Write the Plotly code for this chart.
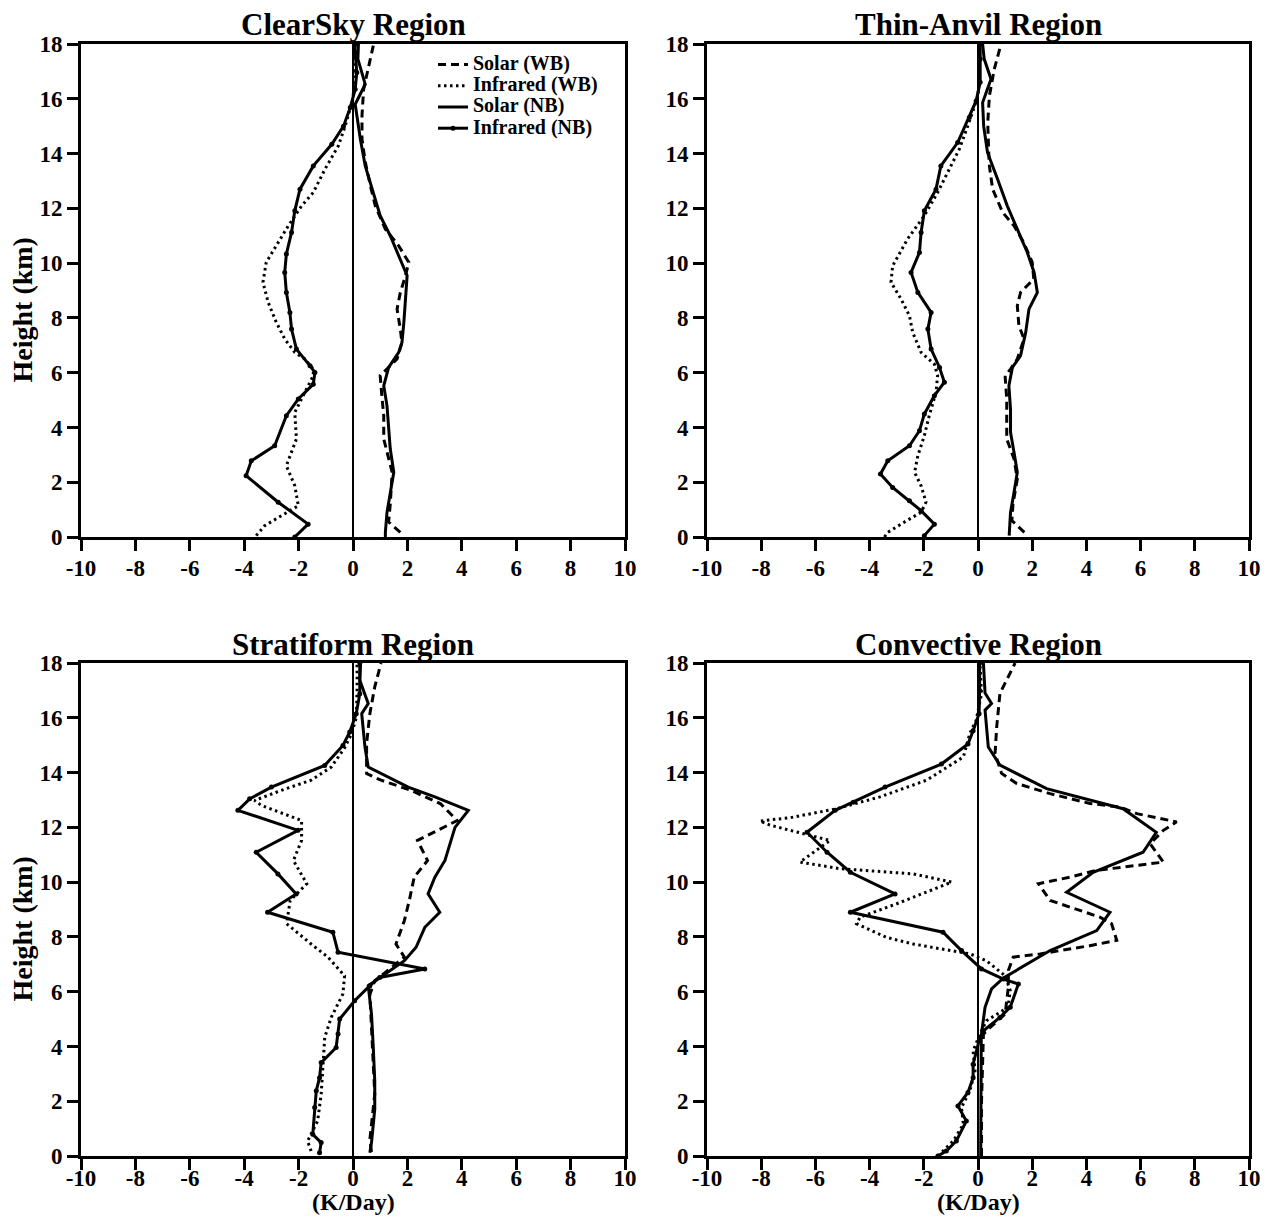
import plotly.graph_objects as go

# ---------------- DATA ----------------
x_tickvals = [-10, -8, -6, -4, -2, 0, 2, 4, 6, 8, 10]
x_ticktext = ["-10", "-8", "-6", "-4", "-2", "0", "2", "4", "6", "8", "10"]
y_tickvals = [0, 2, 4, 6, 8, 10, 12, 14, 16, 18]
y_ticktext = ["0", "2", "4", "6", "8", "10", "12", "14", "16", "18"]
panel_titles = ["ClearSky Region", "Thin-Anvil Region", "Stratiform Region", "Convective Region"]
series_names = ["Solar (WB)", "Infrared (WB)", "Solar (NB)", "Infrared (NB)"]

# ClearSky
clear_solar_wb_x = [1.74, 1.31, 1.37, 1.44, 1.13, 1.13, 1.06, 1.0, 1.62, 1.80, 1.74, 1.62, 1.74, 1.93, 2.05, 1.68, 1.19, 0.82, 0.64, 0.45, 0.33, 0.33, 0.39, 0.57, 0.76]
clear_solar_wb_y = [0.17, 0.55, 1.2, 2.36, 3.58, 4.43, 5.16, 5.89, 6.5, 7.1, 7.59, 8.32, 8.93, 9.54, 10.03, 10.63, 11.24, 12.09, 12.82, 13.7, 14.53, 15.38, 16.35, 17.2, 18.0]
clear_ir_wb_x = [-3.56, -3.25, -2.63, -2.01, -2.14, -2.45, -2.08, -2.14, -1.46, -1.46, -1.77, -2.14, -2.51, -2.82, -3.12, -3.31, -3.19, -2.75, -2.38, -1.89, -1.46, -1.03, -0.54, -0.29, 0.0, 0.06, 0.05]
clear_ir_wb_y = [0.05, 0.41, 0.78, 1.14, 1.87, 2.6, 3.58, 4.55, 5.89, 6.13, 6.5, 6.74, 7.23, 7.84, 8.57, 9.3, 10.03, 10.75, 11.36, 12.09, 12.58, 13.43, 14.28, 15.0, 16.0, 17.0, 18.0]
clear_solar_nb_x = [1.19, 1.19, 1.25, 1.37, 1.50, 1.37, 1.31, 1.25, 1.13, 1.31, 1.68, 1.80, 1.87, 1.93, 1.99, 1.68, 1.37, 1.0, 0.70, 0.45, 0.27, 0.18, 0.08, 0.45, 0.18, 0.20]
clear_solar_nb_y = [0.0, 0.17, 0.90, 1.63, 2.36, 3.21, 4.06, 4.79, 5.52, 6.19, 6.74, 7.1, 7.84, 8.69, 9.54, 10.27, 11.0, 11.73, 12.7, 13.55, 14.53, 15.13, 15.8, 16.53, 17.45, 18.0]
clear_ir_nb_x = [-2.14, -1.65, -2.75, -3.93, -3.74, -2.88, -2.45, -2.01, -1.46, -1.40, -1.58, -2.08, -2.26, -2.32, -2.45, -2.51, -2.45, -2.26, -2.14, -1.95, -1.46, -0.78, -0.35, -0.10, 0.08, 0.14, 0.08, 0.08]
clear_ir_nb_y = [0.0, 0.47, 1.27, 2.24, 2.78, 3.33, 4.43, 5.04, 5.58, 6.01, 6.25, 6.86, 7.59, 8.2, 8.93, 9.66, 10.33, 11.12, 11.91, 12.7, 13.55, 14.34, 15.0, 15.68, 16.35, 16.96, 17.69, 18.0]

# Thin-Anvil
anvil_solar_wb_x = [1.71, 1.25, 1.29, 1.45, 1.33, 1.06, 1.06, 1.06, 1.0, 1.20, 1.45, 1.70, 1.51, 1.45, 1.57, 2.06, 2.0, 1.69, 1.33, 0.91, 0.54, 0.42, 0.39, 0.36, 0.42, 0.60, 0.85]
anvil_solar_wb_y = [0.17, 0.6, 1.2, 2.12, 2.85, 3.58, 4.19, 5.04, 5.89, 6.13, 6.5, 7.23, 7.71, 8.44, 8.93, 9.42, 10.03, 10.75, 11.36, 11.85, 12.7, 13.55, 14.16, 15.13, 16.1, 17.08, 18.0]
anvil_ir_wb_x = [-3.45, -3.33, -2.71, -2.10, -1.92, -2.10, -2.34, -2.22, -1.98, -1.80, -1.55, -1.49, -1.61, -2.10, -2.41, -2.53, -2.84, -3.21, -3.15, -2.60, -1.98, -1.49, -1.12, -0.69, -0.38, 0.0, 0.05, 0.05]
anvil_ir_wb_y = [0.0, 0.17, 0.55, 0.9, 1.27, 1.87, 2.36, 2.97, 3.70, 4.43, 5.28, 5.89, 6.31, 6.74, 7.47, 8.08, 8.69, 9.3, 9.9, 10.88, 11.73, 12.58, 13.31, 14.16, 15.0, 16.1, 17.0, 18.0]
anvil_solar_nb_x = [1.15, 1.20, 1.33, 1.45, 1.33, 1.20, 1.20, 1.14, 1.27, 1.57, 1.76, 1.88, 2.19, 2.07, 1.82, 1.51, 1.08, 0.72, 0.35, 0.21, 0.17, 0.48, 0.23, 0.17]
anvil_solar_nb_y = [0.05, 0.9, 1.63, 2.36, 3.09, 3.82, 4.67, 5.52, 6.19, 6.62, 7.47, 8.32, 8.93, 9.66, 10.39, 11.12, 12.09, 13.07, 14.04, 15.0, 15.86, 16.72, 17.45, 18.0]
anvil_ir_nb_x = [-1.98, -1.61, -2.10, -2.53, -3.15, -3.60, -3.33, -2.53, -2.16, -1.98, -1.61, -1.24, -1.42, -1.73, -1.85, -1.73, -2.22, -2.47, -2.16, -2.10, -1.98, -1.55, -1.37, -0.75, -0.32, -0.07, 0.08, 0.08, 0.08]
anvil_ir_nb_y = [0.05, 0.47, 0.96, 1.32, 1.81, 2.30, 2.78, 3.33, 3.88, 4.49, 5.16, 5.65, 6.19, 6.86, 7.59, 8.2, 8.93, 9.66, 10.39, 11.12, 11.91, 12.7, 13.55, 14.4, 15.32, 15.92, 16.6, 17.45, 18.0]

# Stratiform
strat_solar_wb_x = [0.68, 0.62, 0.80, 0.68, 0.62, 0.80, 1.28, 1.89, 1.58, 1.89, 2.07, 2.25, 2.74, 2.37, 3.83, 3.22, 2.13, 1.03, 0.50, 0.50, 0.62, 0.80, 1.03]
strat_solar_wb_y = [0.15, 0.6, 2.26, 4.7, 5.9, 6.40, 6.77, 7.26, 7.74, 8.6, 9.33, 10.18, 10.79, 11.52, 12.25, 12.86, 13.35, 13.72, 13.96, 15.06, 16.15, 17.13, 18.0]
strat_ir_wb_x = [-1.54, -1.67, -1.30, -1.17, -1.10, -1.04, -0.80, -0.37, -0.31, -0.92, -1.54, -2.44, -2.31, -1.70, -2.19, -1.89, -1.89, -3.37, -3.62, -2.64, -1.54, -0.80, -0.31, -0.06, 0.12, 0.15, 0.15]
strat_ir_wb_y = [0.18, 0.55, 1.28, 2.26, 3.35, 4.33, 5.06, 5.92, 6.58, 7.26, 7.74, 8.48, 9.33, 9.94, 10.79, 11.52, 12.25, 12.8, 12.98, 13.35, 13.72, 14.2, 14.9, 15.4, 16.0, 17.0, 18.0]
strat_solar_nb_x = [0.62, 0.68, 0.80, 0.80, 0.74, 0.68, 0.56, 1.89, 2.32, 2.64, 3.19, 2.76, 3.01, 3.38, 3.75, 4.24, 3.01, 2.03, 0.56, 0.44, 0.32, 0.56, 0.25, 0.28]
strat_solar_nb_y = [0.12, 0.49, 1.71, 2.74, 4.08, 5.18, 6.22, 7.13, 7.62, 8.35, 8.90, 9.57, 10.18, 10.79, 12.0, 12.62, 13.11, 13.47, 14.2, 14.93, 16.15, 16.52, 17.37, 18.0]
strat_ir_nb_x = [-1.23, -1.17, -1.48, -1.41, -1.35, -1.23, -1.17, -0.62, -0.55, -0.49, 0.06, 0.62, 0.98, 2.64, -0.55, -0.74, -3.14, -2.09, -2.76, -3.56, -2.02, -4.23, -3.80, -3.0, -1.04, -0.37, -0.12, 0.12, 0.25, 0.25]
strat_ir_nb_y = [0.12, 0.49, 0.79, 1.77, 2.38, 2.86, 3.41, 3.96, 4.45, 5.0, 5.67, 6.22, 6.52, 6.83, 7.44, 8.17, 8.90, 9.57, 10.30, 11.09, 11.89, 12.62, 13.04, 13.47, 14.26, 14.99, 15.48, 16.15, 16.88, 18.0]

# Convective
conv_solar_wb_x = [0.13, 0.13, 0.20, 0.44, 1.0, 1.12, 1.12, 1.30, 2.29, 4.13, 5.12, 4.93, 4.50, 2.66, 2.23, 3.39, 4.38, 6.84, 6.35, 6.84, 7.33, 5.86, 5.24, 4.13, 2.66, 1.43, 0.87, 0.63, 0.69, 0.81, 1.37]
conv_solar_wb_y = [0.0, 2.0, 4.45, 4.69, 5.18, 6.16, 6.77, 7.26, 7.38, 7.68, 7.87, 8.48, 8.72, 9.33, 9.94, 10.18, 10.43, 10.73, 11.4, 11.89, 12.2, 12.5, 12.74, 12.87, 13.23, 13.6, 13.97, 14.7, 15.67, 16.89, 18.0]
conv_ir_wb_x = [-1.48, -0.91, -0.54, -0.61, -0.30, -0.11, -0.18, 0.07, 0.31, 1.11, 1.19, 1.0, 0.31, -0.30, -2.39, -3.37, -4.48, -4.35, -3.0, -0.97, -2.39, -5.09, -6.57, -5.46, -7.68, -8.05, -6.94, -5.22, -3.62, -1.90, -0.54, -0.30, -0.07, 0.13, 0.07]
conv_ir_wb_y = [0.0, 0.55, 1.16, 1.77, 2.38, 3.11, 3.84, 4.45, 4.94, 5.43, 6.04, 6.58, 7.13, 7.38, 7.74, 7.98, 8.48, 8.72, 9.21, 10.0, 10.3, 10.49, 10.73, 11.52, 12.08, 12.23, 12.35, 12.68, 13.11, 13.72, 14.57, 15.43, 15.9, 16.88, 18.0]
conv_solar_nb_x = [0.10, 0.10, 0.12, 0.26, 0.50, 0.94, 2.66, 4.38, 4.87, 3.27, 4.25, 6.09, 6.58, 5.35, 2.53, 0.81, 0.38, 0.26, 0.50, 0.26, 0.20]
conv_solar_nb_y = [0.0, 2.0, 4.4, 5.43, 6.1, 6.5, 7.5, 8.23, 8.90, 9.63, 10.36, 11.09, 11.82, 12.68, 13.41, 14.27, 14.93, 16.28, 16.52, 16.9, 18.0]
conv_ir_nb_x = [-1.48, -1.17, -0.80, -0.43, -0.74, -0.37, -0.18, -0.18, 0.07, 0.20, 0.81, 1.19, 1.49, 0.94, 0.13, -0.61, -1.29, -4.71, -3.06, -4.71, -5.57, -6.31, -5.27, -4.60, -3.43, -1.35, -0.37, -0.18, 0.04, 0.06, 0.06]
conv_ir_nb_y = [0.0, 0.18, 0.55, 1.28, 1.83, 2.32, 2.86, 3.35, 4.33, 4.57, 5.06, 5.43, 6.28, 6.46, 6.83, 7.5, 8.17, 8.90, 9.57, 10.36, 11.09, 11.82, 12.62, 12.92, 13.47, 14.31, 15.04, 15.53, 16.15, 17.0, 18.0]

# ---------------- FIGURE ----------------
W, H = 1277, 1218
OFF = 8  # page body margin in the browser
FONT = "Liberation Serif"


def px(v):
    return (v - OFF) / W


def py(v):
    return 1 - (v - OFF) / H


xdom_left = [px(81), px(625)]
xdom_right = [px(707), px(1249)]
ydom_top = [py(537), py(44)]
ydom_bot = [py(1156), py(663)]

panels = [
    (xdom_left, ydom_top, [(clear_solar_wb_x, clear_solar_wb_y), (clear_ir_wb_x, clear_ir_wb_y),
                           (clear_solar_nb_x, clear_solar_nb_y), (clear_ir_nb_x, clear_ir_nb_y)]),
    (xdom_right, ydom_top, [(anvil_solar_wb_x, anvil_solar_wb_y), (anvil_ir_wb_x, anvil_ir_wb_y),
                            (anvil_solar_nb_x, anvil_solar_nb_y), (anvil_ir_nb_x, anvil_ir_nb_y)]),
    (xdom_left, ydom_bot, [(strat_solar_wb_x, strat_solar_wb_y), (strat_ir_wb_x, strat_ir_wb_y),
                           (strat_solar_nb_x, strat_solar_nb_y), (strat_ir_nb_x, strat_ir_nb_y)]),
    (xdom_right, ydom_bot, [(conv_solar_wb_x, conv_solar_wb_y), (conv_ir_wb_x, conv_ir_wb_y),
                            (conv_solar_nb_x, conv_solar_nb_y), (conv_ir_nb_x, conv_ir_nb_y)]),
]

styles = [
    dict(mode="lines", line=dict(color="black", width=3, dash="8px,5px")),
    dict(mode="lines", line=dict(color="black", width=3, dash="2.5px,3.5px")),
    dict(mode="lines", line=dict(color="black", width=3)),
    dict(mode="lines+markers", line=dict(color="black", width=3),
         marker=dict(symbol="circle", size=5, color="black")),
]

fig = go.Figure()
layout = dict(
    template="none",
    width=W, height=H, margin=dict(l=0, r=0, t=0, b=0, pad=0, autoexpand=False),
    paper_bgcolor="white", plot_bgcolor="white", showlegend=True,
    legend=dict(x=px(433), y=py(49), xanchor="left", yanchor="top",
                bgcolor="rgba(0,0,0,0)", borderwidth=0,
                font=dict(family=FONT, size=14, color="black", weight="bold"),
                tracegroupgap=0, itemwidth=30),
)
annotations = []

for i, (xd, yd, series) in enumerate(panels):
    n = "" if i == 0 else str(i + 1)
    xa, ya = "x" + n, "y" + n
    for j, (sx, sy) in enumerate(series):
        fig.add_trace(go.Scatter(x=sx, y=sy, xaxis=xa, yaxis=ya,
                                 name='<span style="font-size:20px">' + series_names[j] + "</span>",
                                 showlegend=(i == 0), **styles[j]))
    common = dict(showline=True, linecolor="black", linewidth=3, mirror=True,
                  ticks="outside", ticklen=11, tickwidth=2.5, tickcolor="black",
                  showgrid=False, automargin=False,
                  tickfont=dict(family=FONT, size=23, color="black", weight="bold"))
    layout["xaxis" + n] = dict(domain=xd, anchor=ya, range=[-10, 10],
                               tickvals=x_tickvals, ticktext=x_ticktext,
                               ticklabelstandoff=(-12 if i >= 2 else -3),
                               zeroline=True, zerolinecolor="black", zerolinewidth=1.5, **common)
    layout["yaxis" + n] = dict(domain=yd, anchor=xa, range=[0, 18],
                               tickvals=y_tickvals, ticktext=y_ticktext, zeroline=False, **common)
    annotations.append(dict(text=panel_titles[i], xref="paper", yref="paper",
                            x=(xd[0] + xd[1]) / 2, y=yd[1] + 19 / H, xanchor="center", yanchor="middle",
                            showarrow=False, font=dict(family=FONT, size=31, color="black", weight="bold")))
    if i in (0, 2):
        annotations.append(dict(text="Height (km)", xref="paper", yref="paper", textangle=-90,
                                x=px(22), y=(yd[0] + yd[1]) / 2 - 20 / H, xanchor="center", yanchor="middle",
                                showarrow=False, font=dict(family=FONT, size=28, color="black", weight="bold")))
    if i in (2, 3):
        annotations.append(dict(text="(K/Day)", xref="paper", yref="paper",
                                x=(xd[0] + xd[1]) / 2, y=py(1202), xanchor="center", yanchor="middle",
                                showarrow=False, font=dict(family=FONT, size=24, color="black", weight="bold")))

layout["annotations"] = annotations
fig.update_layout(**layout)
fig.write_html("out.html")
